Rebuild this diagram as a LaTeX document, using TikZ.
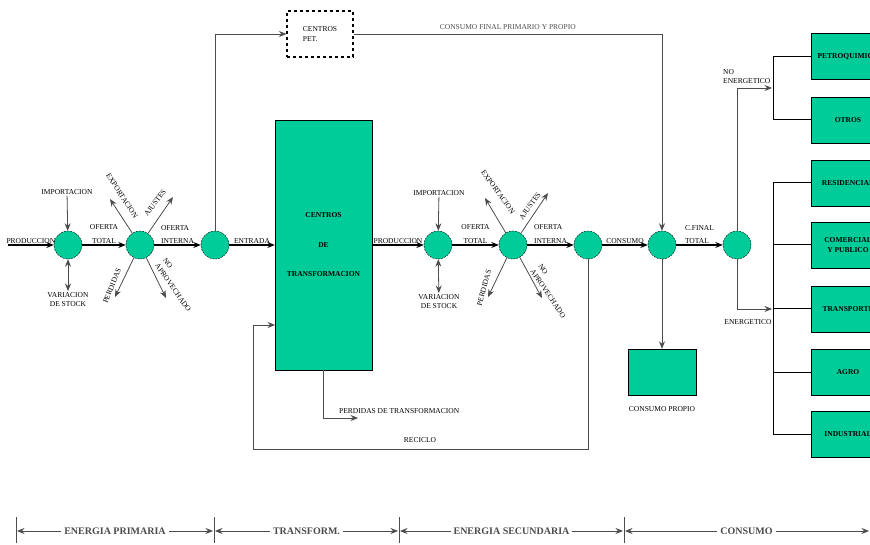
\documentclass[tikz,border=0pt]{standalone}
\usepackage{fontspec}
\setmainfont{Liberation Serif}
\usetikzlibrary{positioning}
\usetikzlibrary{arrows.meta}

\definecolor{verde}{RGB}{0,204,153}

\begin{document}
\begin{tikzpicture}[
x = 1pt, y = -1pt,
>= {Stealth[length = 7.5pt, width = 6pt, inset = 2.5pt]},
every node/.style = {font = \fontsize{7.5}{9.5}\selectfont, inner sep = 1pt},
nodo/.style = {shape = circle, draw = black, dash pattern = on 2pt off 1pt, fill = verde, minimum size = 28pt, inner sep = 0pt},
caja/.style = {shape = rectangle, draw = black, fill = verde, minimum width = 74pt, minimum height = 46pt, align = center, font = \fontsize{7.5}{9.5}\selectfont\bfseries},
grande/.style = {caja, minimum width = 97pt, minimum height = 250pt},
pet/.style = {shape = rectangle, draw = black, dashed, line width = 1.2pt, fill = white, minimum width = 66pt, minimum height = 46pt, align = left},
flujo/.style = {->, line width = 1.2pt, black},
linea/.style = {line width = 0.8pt, black!70},
marco/.style = {line width = 1pt, black},
etiq/.style = {align = center},
regla/.style = {fill = white, inner sep = 3pt, font = \fontsize{10}{12}\selectfont\bfseries},
]
\useasboundingbox (0, 0) rectangle (870, 545);
\clip (0, 0) rectangle (870, 545);

\node[nodo] (c1) at (68, 245) {};
\node[nodo] (c2) at (140, 245) {};
\node[nodo] (c3) at (215, 245) {};
\node[grande] (trans) at (323.5, 245) {CENTROS\\[20pt]DE\\[20pt]TRANSFORMACION};
\node[nodo] (c4) at (438, 245) {};
\node[nodo] (c5) at (513, 245) {};
\node[nodo] (c6) at (588, 245) {};
\node[nodo] (c7) at (662, 245) {};
\node[nodo] (c8) at (737, 245) {};
\node[pet] (pet) at (320, 34) {CENTROS\\PET.};
\node[caja, minimum width = 68pt] (propio) at (662, 372) {};
\node (lprop) [below = 10pt of propio] {CONSUMO PROPIO};

\node[caja] (petro) at (848, 56.5) {PETROQUIMICA};
\node[caja] (otros) at (848, 120) {OTROS};
\node[caja] (resid) at (848, 183) {RESIDENCIAL};
\node[caja] (comer) at (848, 245) {COMERCIAL\\Y PUBLICO};
\node[caja] (transp) at (848, 309) {TRANSPORTE};
\node[caja] (agro) at (848, 372) {AGRO};
\node[caja] (indus) at (848, 434.5) {INDUSTRIAL};

\coordinate (prod1) at (8, 245);
\node (imp1) at (67, 192) {IMPORTACION};
\node[etiq, anchor = north] (var1) at (68, 291) {VARIACION\\DE STOCK};
\draw[flujo] (prod1) -- node[above] {PRODUCCION} (c1);
\draw[linea, ->] (imp1) -- (c1);
\draw[linea, <->] (c1) -- (var1);
\draw[flujo] (c1) -- node[etiq, above] {OFERTA\\[4pt]TOTAL} (c2);
\draw[flujo] (c2) -- node[align = left, above] {OFERTA\\[3pt]INTERNA} (c3);

\coordinate (exp1) at (110, 199);
\coordinate (aju1) at (173, 197);
\coordinate (per1) at (115, 297);
\coordinate (noa1) at (166, 298);
\draw[linea, ->] (c2) -- (exp1);
\draw[linea, ->] (c2) -- (aju1);
\draw[linea, ->] (c2) -- (per1);
\draw[linea, ->] (c2) -- (noa1);
\node[rotate = -57] at (122, 196) {EXPORTACION};
\node[rotate = 53] at (155, 203) {AJUSTES};
\node[rotate = 68] at (112, 286) {PERDIDAS};
\node[align = left, rotate = -55] at (177, 285) {NO\\APROVECHADO};

\draw[linea, ->] (c3) |- (pet);
\draw[linea, ->] (pet) -| node[pos = 0.25, above = 3pt] {CONSUMO FINAL PRIMARIO Y PROPIO} (c7);
\draw[flujo] (c3) -- node[above] {ENTRADA} (trans);
\draw[flujo] (trans) -- node[above] {PRODUCCION} (c4);

\coordinate (perd) at (358, 418);
\draw[linea, ->] (trans.south) |- (perd);
\node[anchor = south west] at (338, 415) {PERDIDAS DE TRANSFORMACION};

\node (imp2) at (439, 193) {IMPORTACION};
\node[etiq, anchor = north] (var2) at (439, 293) {VARIACION\\DE STOCK};
\draw[linea, ->] (imp2) -- (c4);
\draw[linea, <->] (c4) -- (var2);
\draw[flujo] (c4) -- node[etiq, above] {OFERTA\\[4pt]TOTAL} (c5);
\draw[flujo] (c5) -- node[align = left, above] {OFERTA\\[4pt]INTERNA} (c6);

\coordinate (exp2) at (485, 198);
\coordinate (aju2) at (548, 193);
\coordinate (per2) at (488, 297);
\coordinate (noa2) at (542, 298);
\draw[linea, ->] (c5) -- (exp2);
\draw[linea, ->] (c5) -- (aju2);
\draw[linea, ->] (c5) -- (per2);
\draw[linea, ->] (c5) -- (noa2);
\node[rotate = -54] at (498, 192) {EXPORTACION};
\node[rotate = 54] at (530, 206) {AJUSTES};
\node[rotate = 75] at (484, 288) {PERDIDAS};
\node[align = left, rotate = -56] at (552, 291) {NO\\APROVECHADO};

\coordinate (rec1) at (253, 449);
\coordinate (rec2) at (275, 325);
\draw[linea, ->] (c6) |- (rec1) |- (rec2);
\node at (420, 440) {RECICLO};

\draw[flujo] (c6) -- node[above] {CONSUMO} (c7);
\draw[flujo] (c7) -- node[align = left, above] {C.FINAL\\[3pt]TOTAL} (c8);
\draw[linea, ->] (c7) -- (propio);

\coordinate (noen) at (772, 88);
\coordinate (en) at (772, 309);
\draw[linea, ->] (c8) |- (noen);
\draw[linea, ->] (c8) |- (en);
\node[align = left, anchor = south west] at (722, 85) {NO\\ENERGETICO};
\node at (748, 322) {ENERGETICO};
\draw[marco] (petro.west) -- ++(-37, 0) |- (otros.west);
\draw[marco] (resid.west) -- ++(-37, 0) |- (indus.west);
\foreach \sector in {comer, transp, agro}
  \draw[marco] (\sector.west) -- ++(-37, 0);

\coordinate (r1) at (16, 531);
\coordinate (r2) at (214, 531);
\coordinate (r3) at (399, 531);
\coordinate (r4) at (624, 531);
\coordinate (r5) at (869, 531);
\foreach \x in {16, 214, 399, 624}
  \draw[linea] (\x, 517) -- (\x, 543);
\draw[linea, <->, shorten <= 1pt, shorten >= 1pt] (r1) -- node[regla] {ENERGIA PRIMARIA} (r2);
\draw[linea, <->, shorten <= 1pt, shorten >= 1pt] (r2) -- node[regla] {TRANSFORM.} (r3);
\draw[linea, <->, shorten <= 1pt, shorten >= 1pt] (r3) -- node[regla] {ENERGIA SECUNDARIA} (r4);
\draw[linea, <->, shorten <= 1pt] (r4) -- node[regla] {CONSUMO} (r5);
\end{tikzpicture}
\end{document}
